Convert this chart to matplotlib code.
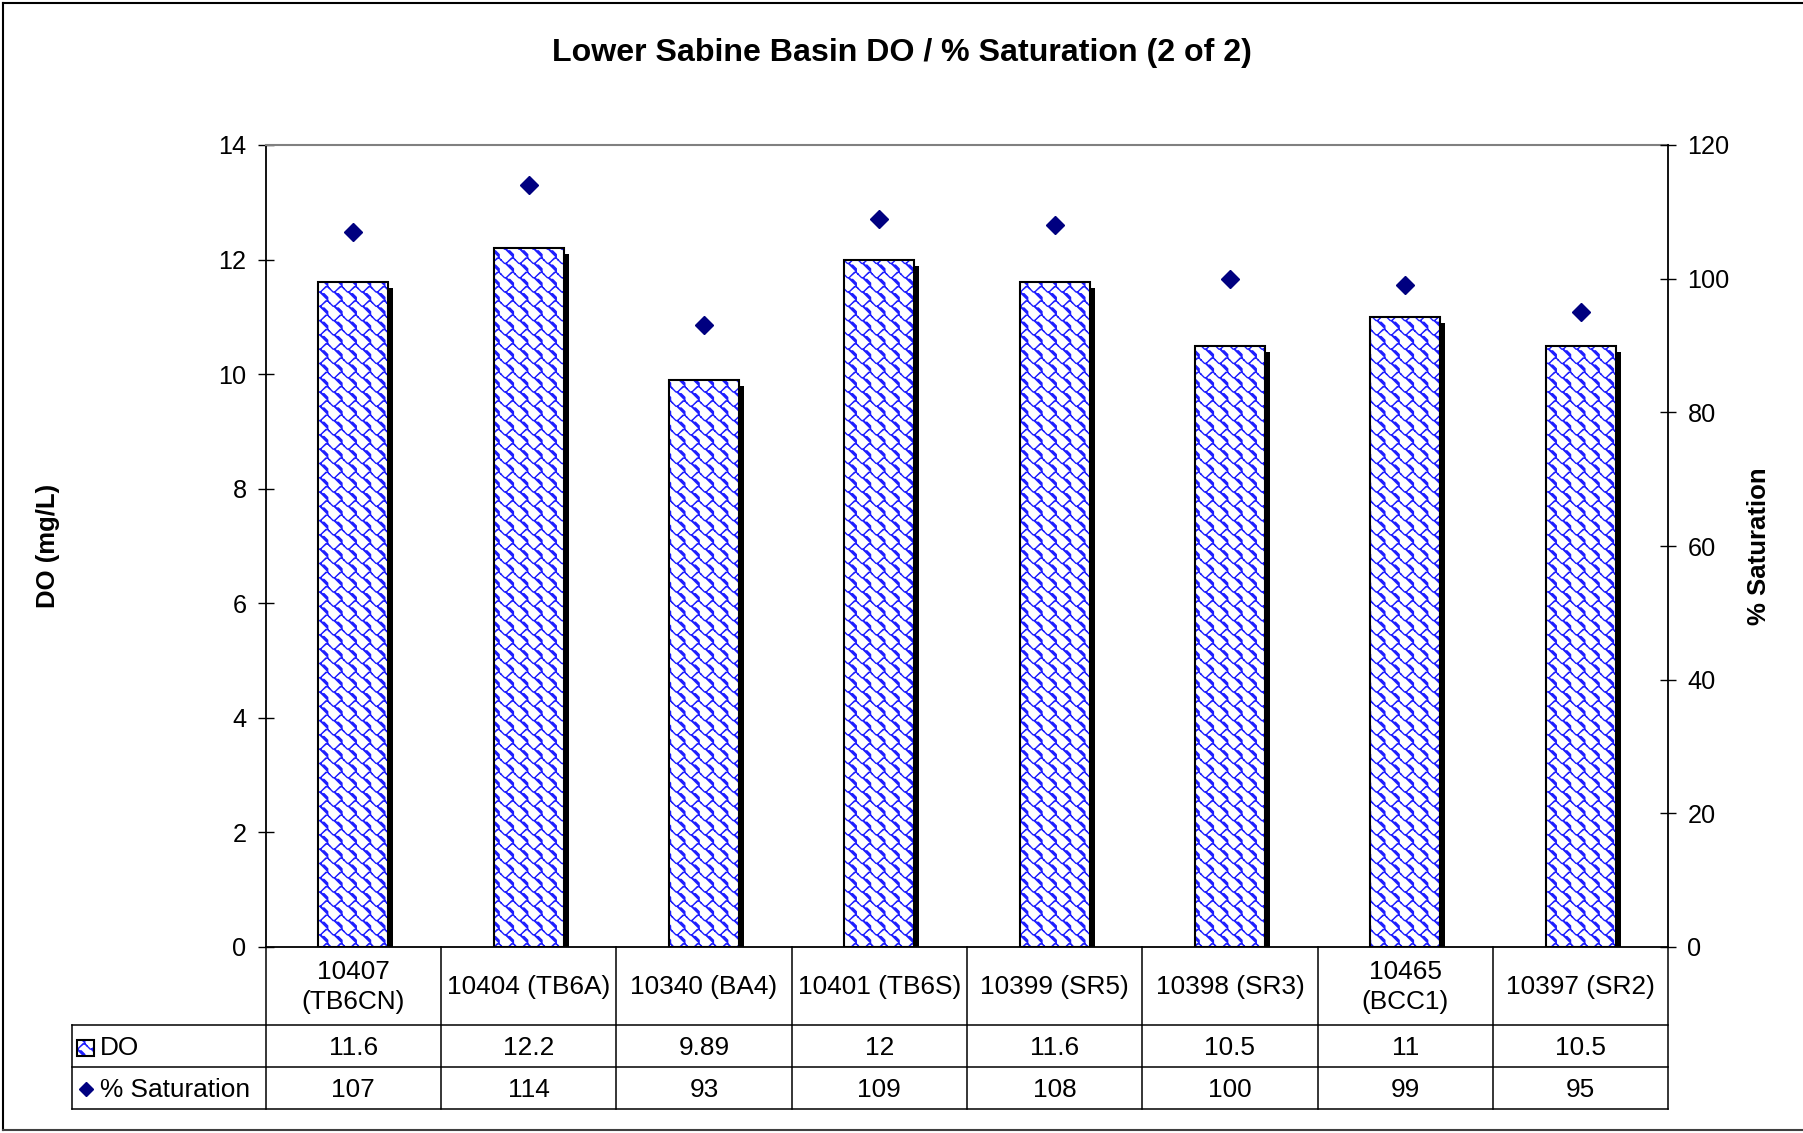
import numpy as np
import matplotlib
matplotlib.use('Agg')
import matplotlib.pyplot as plt
import matplotlib.hatch as mhatch
from matplotlib.path import Path
from matplotlib.patches import Rectangle
from matplotlib.lines import Line2D

# ---------------- data ----------------
categories = ["10407\n(TB6CN)", "10404 (TB6A)", "10340 (BA4)", "10401 (TB6S)",
              "10399 (SR5)", "10398 (SR3)", "10465\n(BCC1)", "10397 (SR2)"]
do_values = [11.6, 12.2, 9.89, 12, 11.6, 10.5, 11, 10.5]
sat_values = [107, 114, 93, 109, 108, 100, 99, 95]
do_ticks = [0, 2, 4, 6, 8, 10, 12, 14]
sat_ticks = [0, 20, 40, 60, 80, 100, 120]
series_names = ["DO", "% Saturation"]
title = "Lower Sabine Basin DO / % Saturation (2 of 2)"
ylabel_left = "DO (mg/L)"
ylabel_right = "% Saturation"

# ---------------- custom "shingle" hatch ----------------
SHINGLE_A = [(0, 1), (1, 2), (2, 3), (3, 3), (4, 4), (5, 4), (6, 5), (7, 6), (7, 7), (7, 8), (8, 9)]
SHINGLE_B = [(3, 3), (4, 2), (5, 1), (6, 0), (7, 0)]


class ShingleHatch(mhatch.HatchPatternBase):
    tiles = 7

    def __init__(self, hatch, density):
        self.num_vertices = 0
        if '*' not in hatch:
            return
        verts, codes = [], []
        n = self.tiles
        for i in range(-1, n + 1):
            for j in range(-1, n + 1):
                for poly in (SHINGLE_A, SHINGLE_B):
                    for k, (c, r) in enumerate(poly):
                        xx = (i + (c + 0.5) / 8) / n
                        yy = (j + 1 - (r + 0.5) / 8) / n
                        verts.append((xx, yy))
                        codes.append(Path.MOVETO if k == 0 else Path.LINETO)
        self.verts = np.array(verts, float)
        self.codes = np.array(codes, dtype=Path.code_type)
        self.num_vertices = len(verts)

    def set_vertices_and_codes(self, vertices, codes):
        vertices[:] = self.verts
        codes[:] = self.codes


mhatch._hatch_types[:] = [c for c in mhatch._hatch_types if c is not mhatch.Stars] + [ShingleHatch]

plt.rcParams['font.family'] = ['Liberation Sans', 'DejaVu Sans']
plt.rcParams['hatch.linewidth'] = 1.0

W, H = 1803, 1133
fig = plt.figure(figsize=(W / 100, H / 100), dpi=100)
fig.patch.set_facecolor('white')

# overlay axes in pixel coordinates (for table, border)
ov = fig.add_axes([0, 0, 1, 1], zorder=5)
ov.set_xlim(0, W)
ov.set_ylim(H, 0)
ov.axis('off')

# plot area
px_l, px_r, px_t, px_b = 265.7, 1668.3, 145.0, 947.0
ax = fig.add_axes([px_l / W, 1 - px_b / H, (px_r - px_l) / W, (px_b - px_t) / H], zorder=1)

x = np.arange(len(categories))
bar_w = 0.4
ncat = len(categories)
col_w = (px_r - px_l) / ncat
dx = 5 / col_w
dy = 6 * (do_ticks[-1] - do_ticks[0]) / (px_b - px_t)

ax.bar(x + dx, np.array(do_values) - dy, width=bar_w, color='black', linewidth=0, zorder=1)
ax.bar(x, do_values, width=bar_w, facecolor='white', edgecolor='#1E1EFF', linewidth=0,
       hatch='*', zorder=2)
ax.bar(x, do_values, width=bar_w, fill=False, edgecolor='black', linewidth=1.5, zorder=3)

ax.set_xlim(-0.5, ncat - 0.5)
ax.set_ylim(do_ticks[0], do_ticks[-1])
ax.set_yticks(do_ticks)
ax.set_xticks([])
ax.tick_params(axis='y', direction='inout', length=11.5, width=1.0, labelsize=18.2, pad=8,
               colors='black')
ax.spines['top'].set_color('#808080')
ax.spines['top'].set_linewidth(1.5)
ax.spines['left'].set_linewidth(1.3)
ax.spines['bottom'].set_linewidth(1.3)
ax.spines['right'].set_visible(False)

ax2 = ax.twinx()
ax2.plot(x, sat_values, linestyle='none', marker='D', markersize=8.7, color='#000080', zorder=5)
ax2.set_ylim(sat_ticks[0], sat_ticks[-1])
ax2.set_yticks(sat_ticks)
ax2.tick_params(axis='y', direction='inout', length=11.5, width=1.0, labelsize=18.2, pad=8)
for s in ('top', 'left', 'bottom'):
    ax2.spines[s].set_visible(False)
ax2.spines['right'].set_linewidth(1.3)

# titles / labels
fig.text(0.5, 1 - 53 / H, title, ha='center', va='center', fontsize=23.1, fontweight='bold')
fig.text(48 / W, 1 - (px_t + px_b) / 2 / H, ylabel_left, rotation=90, ha='center', va='center',
         fontsize=18.5, fontweight='bold')
fig.text(1759 / W, 1 - (px_t + px_b) / 2 / H, ylabel_right, rotation=90, ha='center', va='center',
         fontsize=18.5, fontweight='bold')

# ---------------- data table ----------------
row_hdr_b, row_do_b, row_sat_b = 1025.0, 1067.0, 1109.0
tbl_l = 71.7
lc = 'black'
lw = 1.1
for yy in (row_hdr_b, row_do_b, row_sat_b):
    ov.add_line(Line2D([tbl_l, px_r], [yy, yy], color=lc, lw=lw))
ov.add_line(Line2D([tbl_l, tbl_l], [row_hdr_b, row_sat_b], color=lc, lw=lw))
for i in range(ncat + 1):
    xx = px_l + i * col_w
    ov.add_line(Line2D([xx, xx], [px_b, row_sat_b], color=lc, lw=lw))

fs_tbl = 18.9
for i, cat in enumerate(categories):
    cx = px_l + (i + 0.5) * col_w
    ov.text(cx, (px_b + row_hdr_b) / 2 + 1, cat, ha='center', va='center', fontsize=fs_tbl,
            linespacing=1.35)
    ov.text(cx, (row_hdr_b + row_do_b) / 2 + 2, f"{do_values[i]:g}", ha='center', va='center',
            fontsize=fs_tbl)
    ov.text(cx, (row_do_b + row_sat_b) / 2 + 2, f"{sat_values[i]:g}", ha='center', va='center',
            fontsize=fs_tbl)

# legend keys in table
ov.add_patch(Rectangle((77, 1040), 17, 16, facecolor='white', edgecolor='#1E1EFF', linewidth=0,
                       hatch='*'))
ov.add_patch(Rectangle((77, 1040), 17, 16, fill=False, edgecolor='black', linewidth=1.5))
ov.text(100, (row_hdr_b + row_do_b) / 2 + 2, series_names[0], ha='left', va='center', fontsize=fs_tbl)
ov.plot([86], [(row_do_b + row_sat_b) / 2 + 1], linestyle='none', marker='D', markersize=7.5,
        color='#000080')
ov.text(100, (row_do_b + row_sat_b) / 2 + 2, series_names[1], ha='left', va='center', fontsize=fs_tbl)

# figure border (chart area)
ov.add_line(Line2D([3, 3], [3, 1130], color='black', lw=1.5))
ov.add_line(Line2D([3, W], [3, 3], color='black', lw=1.5))
ov.add_line(Line2D([3, W], [1130, 1130], color='#404040', lw=1.5))

fig.savefig('out.png', dpi=100, facecolor='white')
